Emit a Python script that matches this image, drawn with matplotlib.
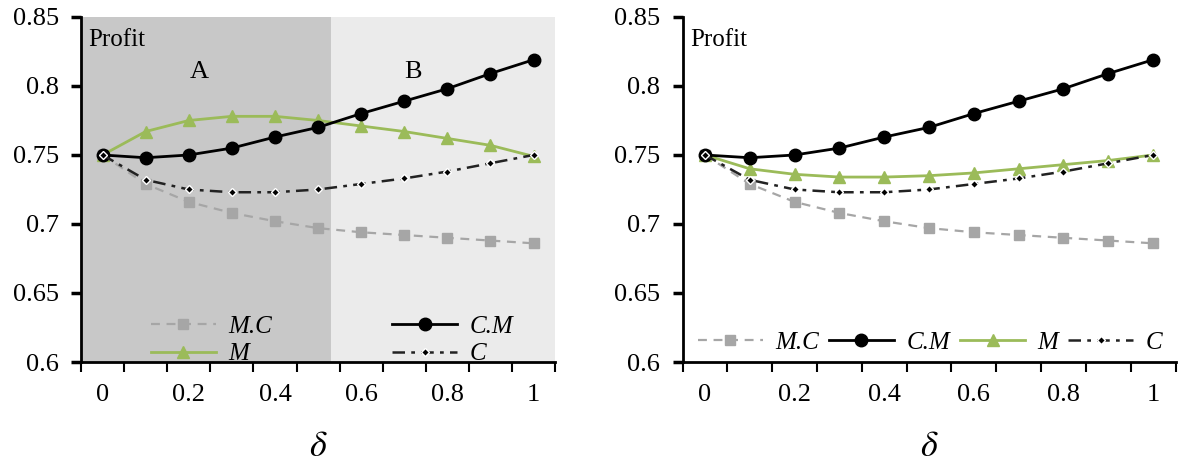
import matplotlib
matplotlib.use("Agg")
import matplotlib.pyplot as plt
from matplotlib.ticker import FuncFormatter, FixedLocator

plt.rcParams["font.family"] = ["Liberation Serif", "DejaVu Serif"]
plt.rcParams["mathtext.fontset"] = "stix"

delta = [0, 0.1, 0.2, 0.3, 0.4, 0.5, 0.6, 0.7, 0.8, 0.9, 1.0]
xtick_labels = ["0", "0.2", "0.4", "0.6", "0.8", "1"]

# left panel
mc_a = [0.750, 0.729, 0.716, 0.708, 0.702, 0.697, 0.694, 0.692, 0.690, 0.688, 0.686]
cm_a = [0.750, 0.748, 0.750, 0.755, 0.763, 0.770, 0.780, 0.789, 0.798, 0.809, 0.819]
m_a = [0.750, 0.767, 0.775, 0.778, 0.778, 0.775, 0.771, 0.767, 0.762, 0.757, 0.749]
c_a = [0.750, 0.732, 0.725, 0.723, 0.723, 0.725, 0.729, 0.733, 0.738, 0.744, 0.750]

# right panel
mc_b = [0.750, 0.729, 0.716, 0.708, 0.702, 0.697, 0.694, 0.692, 0.690, 0.688, 0.686]
cm_b = [0.750, 0.748, 0.750, 0.755, 0.763, 0.770, 0.780, 0.789, 0.798, 0.809, 0.819]
m_b = [0.750, 0.740, 0.736, 0.734, 0.734, 0.735, 0.737, 0.740, 0.743, 0.746, 0.750]
c_b = [0.750, 0.732, 0.725, 0.723, 0.723, 0.725, 0.729, 0.733, 0.738, 0.744, 0.750]

region_split = 5.3  # boundary between region A and B (category units)

GREY = "#a6a6a6"
GREEN = "#9bbb59"
LEG_FONT = {"style": "italic", "size": 18, "family": "Liberation Serif"}


def draw(ax, mc, cm, m, c):
    x = list(range(len(delta)))
    ax.plot(x, mc, color=GREY, ls=(0, (4, 3)), lw=1.6, marker="s", ms=7,
            mfc=GREY, mec=GREY, label="M.C", zorder=3)
    ax.plot(x, cm, color="black", ls="-", lw=2, marker="o", ms=9,
            label="C.M", zorder=4)
    ax.plot(x, m, color=GREEN, ls="-", lw=2, marker="^", ms=8,
            mfc=GREEN, mec=GREEN, label="M", zorder=3)
    ax.plot(x, c, color="#222222", ls=(0, (5, 2.5, 1.5, 2.5)), lw=1.8,
            marker="D", ms=4.5, mfc="black", mec="white", mew=1,
            label="C", zorder=5)

    ax.set_xlim(-0.5, 10.5)
    ax.set_ylim(0.6, 0.85)
    ax.xaxis.set_major_locator(FixedLocator([i - 0.5 for i in range(12)]))
    ax.xaxis.set_major_formatter(FuncFormatter(lambda v, p: ""))
    ax.xaxis.set_minor_locator(FixedLocator([0, 2, 4, 6, 8, 10]))
    ax.set_xticklabels(xtick_labels, minor=True)
    ax.tick_params(axis="x", which="major", direction="out", length=7, width=1.5)
    ax.tick_params(axis="x", which="minor", length=0, pad=16, labelsize=19)
    ax.set_yticks([0.6, 0.65, 0.7, 0.75, 0.8, 0.85])
    ax.yaxis.set_major_formatter(FuncFormatter(lambda v, p: f"{v:g}"))
    ax.tick_params(axis="y", direction="out", length=7, width=2.5, labelsize=19, pad=9)
    for s in ["top", "right"]:
        ax.spines[s].set_visible(False)
    for s in ["left", "bottom"]:
        ax.spines[s].set_linewidth(2)
    ax.text(0.015, 0.965, "Profit", transform=ax.transAxes, fontsize=18,
            va="top", ha="left")
    ax.set_xlabel(r"$\delta$", fontsize=26, labelpad=18)


fig = plt.figure(figsize=(11.85, 4.65), dpi=100)
ax1 = fig.add_axes([0.0684, 0.2215, 0.4, 0.742])
ax2 = fig.add_axes([0.576, 0.2215, 0.416, 0.742])

ax1.axvspan(-0.5, region_split, color="#c8c8c8", zorder=0, lw=0)
ax1.axvspan(region_split, 10.5, color="#ebebeb", zorder=0, lw=0)
draw(ax1, mc_a, cm_a, m_a, c_a)
draw(ax2, mc_b, cm_b, m_b, c_b)

ax1.text(2.25, 0.81, "A", fontsize=19, ha="center", va="center")
ax1.text(7.2, 0.81, "B", fontsize=19, ha="center", va="center")

h, l = ax1.get_legend_handles_labels()
order = [0, 2, 1, 3]
leg1 = ax1.legend([h[i] for i in order], [l[i] for i in order], ncol=2,
                  loc="lower left", bbox_to_anchor=(0.1, -0.075),
                  frameon=False, handlelength=2.6, handletextpad=0.5,
                  columnspacing=4.8, labelspacing=0.2, prop=LEG_FONT)
leg2 = ax2.legend(h, l, ncol=4, loc="lower left", bbox_to_anchor=(0.0, -0.02),
                  frameon=False, handlelength=2.6, columnspacing=0.4,
                  handletextpad=0.5, borderaxespad=0.2, prop=LEG_FONT)

fig.savefig("out.png", dpi=100)
